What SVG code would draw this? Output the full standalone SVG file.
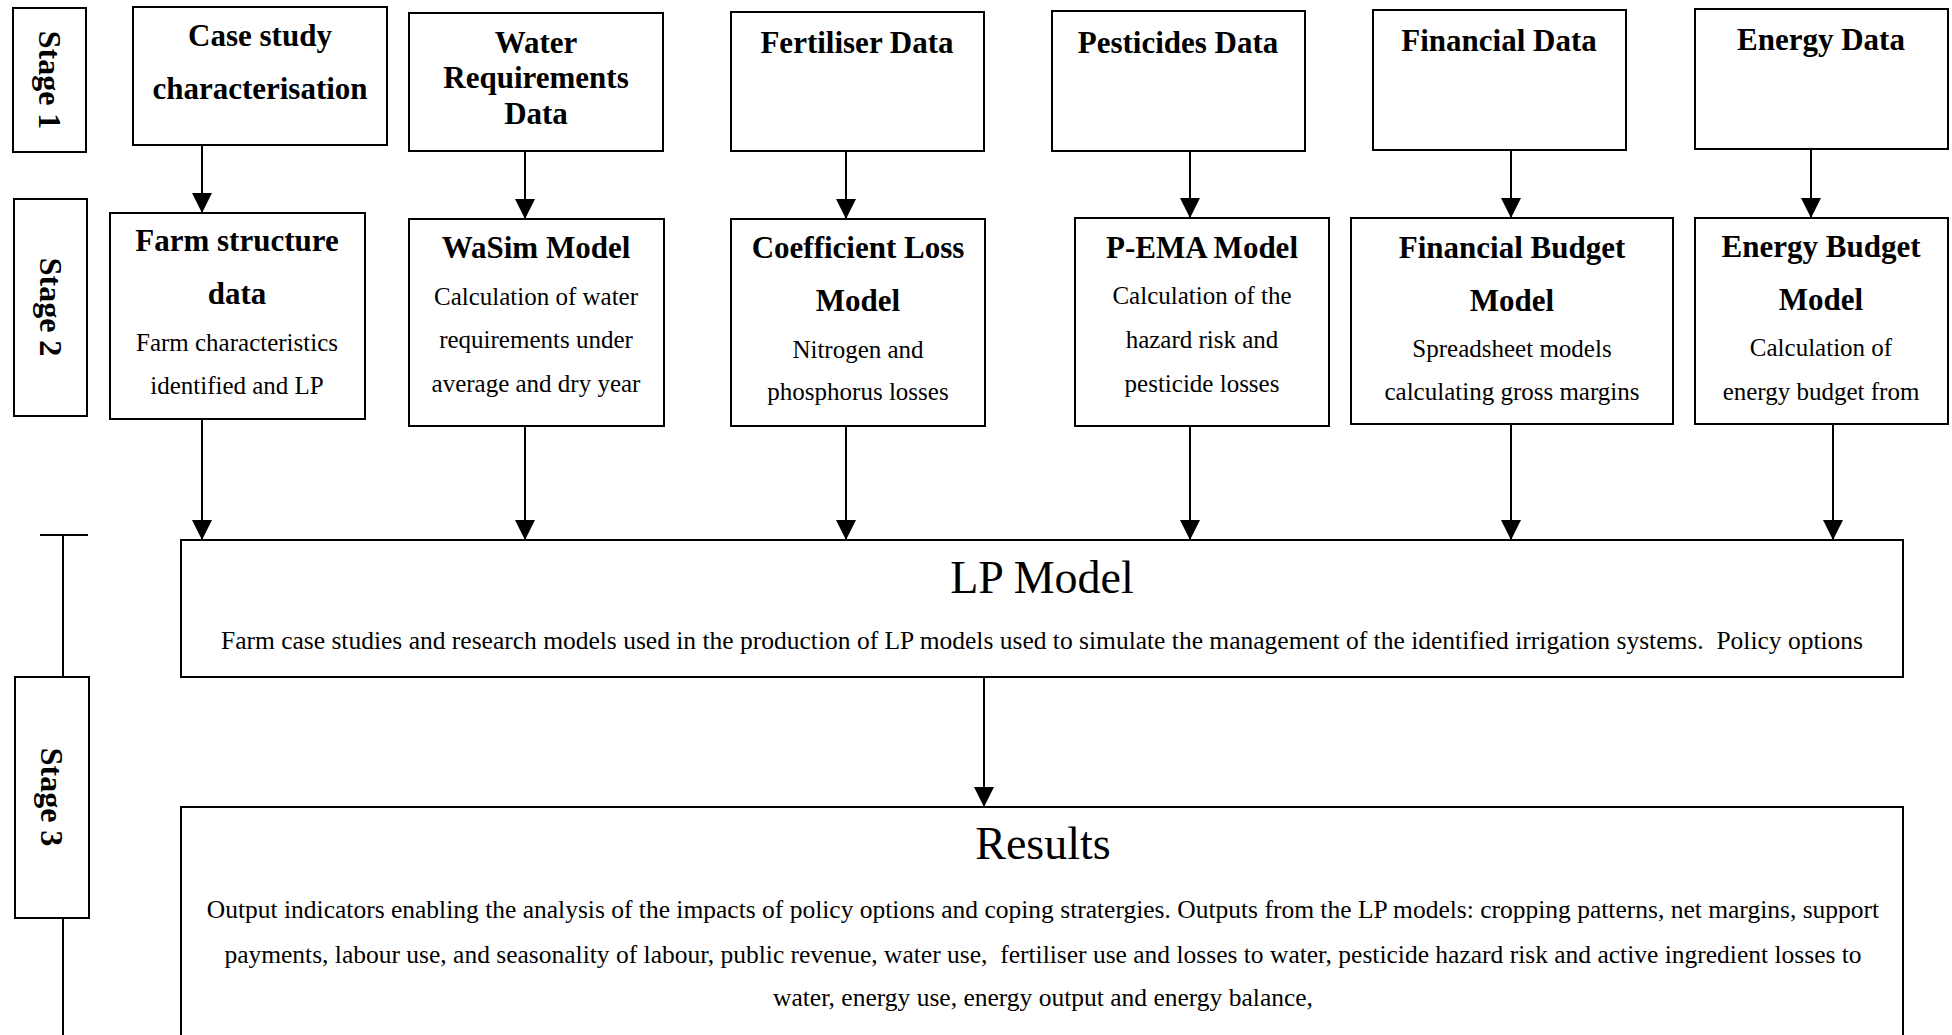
<svg xmlns="http://www.w3.org/2000/svg" width="1952" height="1035" viewBox="0 0 1952 1035">
<style>
  .box { fill: #ffffff; stroke: #000000; stroke-width: 2; }
  .t { font-family: 'Liberation Serif', 'Times New Roman', serif; font-weight: bold; font-size: 31px; text-anchor: middle; fill: #000; }
  .b { font-family: 'Liberation Serif', 'Times New Roman', serif; font-size: 25px; text-anchor: middle; fill: #000; }
  .h { font-family: 'Liberation Serif', 'Times New Roman', serif; font-size: 46px; text-anchor: middle; fill: #000; }
  .d { font-family: 'Liberation Serif', 'Times New Roman', serif; font-size: 25.5px; text-anchor: middle; fill: #000; }
  .s { font-family: 'Liberation Serif', 'Times New Roman', serif; font-weight: bold; font-size: 32px; text-anchor: middle; fill: #000; }
  .c { stroke: #000; stroke-width: 2; fill: none; }
  .ca { stroke: #000; stroke-width: 2; fill: none; marker-end: url(#ah); }
</style>
<defs>
  <marker id="ah" markerUnits="userSpaceOnUse" markerWidth="20" markerHeight="20" viewBox="0 0 20 20" refX="20" refY="10" orient="auto">
    <path d="M0,0 L20,10 L0,20 z" fill="#000"/>
  </marker>
</defs>
<rect width="1952" height="1035" fill="#ffffff"/>

<g id="stage1">
  <rect class="box" x="13" y="8" width="73" height="144"/>
  <text class="s" transform="translate(50,80) rotate(90)" dy="11">Stage 1</text>
</g>
<g id="stage2">
  <rect class="box" x="14" y="199" width="73" height="217"/>
  <text class="s" transform="translate(51,307) rotate(90)" dy="11">Stage 2</text>
</g>
<g id="stage3">
  <rect class="box" x="15" y="677" width="74" height="241"/>
  <text class="s" transform="translate(52,797) rotate(90)" dy="11">Stage 3</text>
</g>

<g id="case-study">
  <rect class="box" x="133" y="7" width="254" height="138"/>
  <text class="t" x="260" y="46">Case study</text>
  <text class="t" x="260" y="99">characterisation</text>
</g>
<g id="water-data">
  <rect class="box" x="409" y="13" width="254" height="138"/>
  <text class="t" x="536" y="53">Water</text>
  <text class="t" x="536" y="88">Requirements</text>
  <text class="t" x="536" y="124">Data</text>
</g>
<g id="fertiliser-data">
  <rect class="box" x="731" y="12" width="253" height="139"/>
  <text class="t" x="857" y="53">Fertiliser Data</text>
</g>
<g id="pesticides-data">
  <rect class="box" x="1052" y="11" width="253" height="140"/>
  <text class="t" x="1178" y="53">Pesticides Data</text>
</g>
<g id="financial-data">
  <rect class="box" x="1373" y="10" width="253" height="140"/>
  <text class="t" x="1499" y="51">Financial Data</text>
</g>
<g id="energy-data">
  <rect class="box" x="1695" y="9" width="253" height="140"/>
  <text class="t" x="1821" y="50">Energy Data</text>
</g>

<g id="farm-structure">
  <rect class="box" x="110" y="213" width="255" height="206"/>
  <text class="t" x="237" y="251">Farm structure</text>
  <text class="t" x="237" y="304">data</text>
  <text class="b" x="237" y="351">Farm characteristics</text>
  <text class="b" x="237" y="394">identified and LP</text>
</g>
<g id="wasim">
  <rect class="box" x="409" y="219" width="255" height="207"/>
  <text class="t" x="536" y="258">WaSim Model</text>
  <text class="b" x="536" y="305">Calculation of water</text>
  <text class="b" x="536" y="348">requirements under</text>
  <text class="b" x="536" y="392">average and dry year</text>
</g>
<g id="coefficient-loss">
  <rect class="box" x="731" y="219" width="254" height="207"/>
  <text class="t" x="858" y="258">Coefficient Loss</text>
  <text class="t" x="858" y="311">Model</text>
  <text class="b" x="858" y="358">Nitrogen and</text>
  <text class="b" x="858" y="400">phosphorus losses</text>
</g>
<g id="p-ema">
  <rect class="box" x="1075" y="218" width="254" height="208"/>
  <text class="t" x="1202" y="258">P-EMA Model</text>
  <text class="b" x="1202" y="304">Calculation of the</text>
  <text class="b" x="1202" y="348">hazard risk and</text>
  <text class="b" x="1202" y="392">pesticide losses</text>
</g>
<g id="financial-budget">
  <rect class="box" x="1351" y="218" width="322" height="206"/>
  <text class="t" x="1512" y="258">Financial Budget</text>
  <text class="t" x="1512" y="311">Model</text>
  <text class="b" x="1512" y="357">Spreadsheet models</text>
  <text class="b" x="1512" y="400">calculating gross margins</text>
</g>
<g id="energy-budget">
  <rect class="box" x="1695" y="218" width="253" height="206"/>
  <text class="t" x="1821" y="257">Energy Budget</text>
  <text class="t" x="1821" y="310">Model</text>
  <text class="b" x="1821" y="356">Calculation of</text>
  <text class="b" x="1821" y="400">energy budget from</text>
</g>

<g id="lp-model">
  <rect class="box" x="181" y="540" width="1722" height="137"/>
  <text class="h" x="1042" y="593">LP Model</text>
  <text class="d" x="1042" y="649" xml:space="preserve">Farm case studies and research models used in the production of LP models used to simulate the management of the identified irrigation systems.  Policy options</text>
</g>

<g id="results">
  <rect class="box" x="181" y="807" width="1722" height="240"/>
  <text class="h" x="1043" y="859">Results</text>
  <text class="d" x="1043" y="918">Output indicators enabling the analysis of the impacts of policy options and coping stratergies. Outputs from the LP models: cropping patterns, net margins, support</text>
  <text class="d" x="1043" y="963" xml:space="preserve">payments, labour use, and seasonality of labour, public revenue, water use,  fertiliser use and losses to water, pesticide hazard risk and active ingredient losses to</text>
  <text class="d" x="1043" y="1006">water, energy use, energy output and energy balance,</text>
</g>

<g id="connectors">
  <line class="ca" x1="202" y1="145" x2="202" y2="213"/>
  <line class="ca" x1="525" y1="151" x2="525" y2="219"/>
  <line class="ca" x1="846" y1="151" x2="846" y2="219"/>
  <line class="ca" x1="1190" y1="151" x2="1190" y2="218"/>
  <line class="ca" x1="1511" y1="150" x2="1511" y2="218"/>
  <line class="ca" x1="1811" y1="149" x2="1811" y2="218"/>

  <line class="ca" x1="202" y1="419" x2="202" y2="540"/>
  <line class="ca" x1="525" y1="426" x2="525" y2="540"/>
  <line class="ca" x1="846" y1="426" x2="846" y2="540"/>
  <line class="ca" x1="1190" y1="426" x2="1190" y2="540"/>
  <line class="ca" x1="1511" y1="424" x2="1511" y2="540"/>
  <line class="ca" x1="1833" y1="424" x2="1833" y2="540"/>

  <line class="ca" x1="984" y1="677" x2="984" y2="807"/>

  <line class="c" x1="40" y1="535" x2="88" y2="535"/>
  <line class="c" x1="63" y1="535" x2="63" y2="677"/>
  <line class="c" x1="63" y1="918" x2="63" y2="1035"/>
</g>
</svg>
